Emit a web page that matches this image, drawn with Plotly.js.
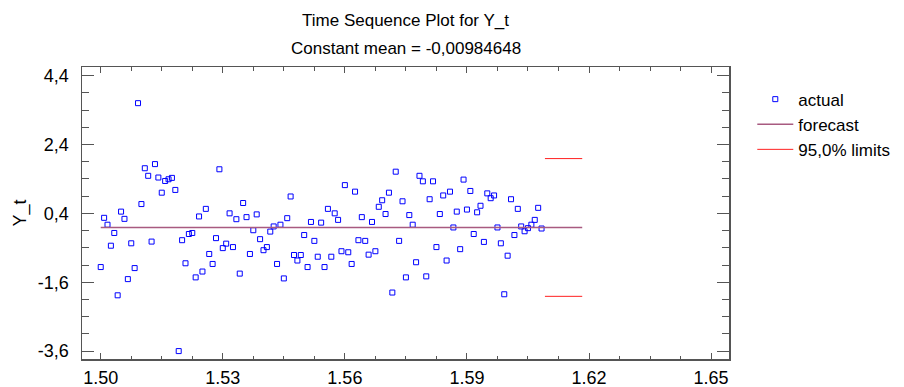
<!DOCTYPE html>
<html>
<head>
<meta charset="utf-8">
<script src="https://cdn.plot.ly/plotly-3.0.1.min.js"></script>
<style>html,body{margin:0;padding:0;background:#fff;}#chart{width:904px;height:387px;}</style>
</head>
<body>
<div id="chart"></div>
<script>
// Time index: starts at 1.50, one step = 1/1200
const timeStart = 1.50;
const timeStep = 1 / 1200;

// actual values Y_t
const actualY = [
  -1.16, 0.27, 0.07, -0.54, -0.17, -1.98, 0.45, 0.24, -1.51, -0.47,
  -1.19, 3.60, 0.67, 1.71, 1.49, -0.42, 1.83, 1.44, 1.00, 1.34,
  1.39, 1.43, 1.08, -3.60, -0.38, -1.05, -0.20, -0.17, -1.46, 0.31,
  -1.29, 0.53, -0.78, -1.07, -0.32, 1.68, -0.61, -0.48, 0.40, -0.58,
  0.23, -1.35, 0.70, 0.29, -0.78, -0.09, 0.37, -0.35, -0.67, -0.58,
  -0.13, 0.02, -1.07, 0.07, -1.49, 0.26, 0.89, -0.81, -0.97, -0.81,
  -0.23, -1.16, 0.15, -0.40, -0.86, 0.13, -1.16, 0.53, -0.86, 0.40,
  0.21, -0.70, 1.22, -0.73, -1.07, 1.03, -0.38, 0.29, -0.40, -0.80,
  0.15, -0.70, 0.59, 0.78, 0.38, 1.00, -1.90, 1.61, -0.40, 0.75,
  -1.46, 0.35, 0.07, -1.02, 1.49, 1.33, -1.43, 0.81, 1.33, -0.58,
  0.38, 0.92, -0.97, 1.03, -0.01, 0.45, -0.64, 1.38, 0.51, 1.05,
  -0.20, 0.43, 0.62, -0.43, 0.98, 0.84, 0.92, -0.01, -0.47, -1.95,
  -0.83, 0.81, -0.23, 0.53, 0.02, -0.12, -0.03, 0.07, 0.21, 0.56,
  -0.04
];

// forecast (constant mean) line
const forecastMean = -0.00984648;
const forecastX = [1.50, 1.61833];
const forecastY = [forecastMean, forecastMean];

// 95% limits for forecast period
const limitsX = [1.60917, 1.61833];
const upperLimit = [1.99, 1.99];
const lowerLimit = [-2.01, -2.01];

// y tick labels (comma decimals)
const yTickVals = [-3.6, -1.6, 0.4, 2.4, 4.4];
const yTickText = ["-3,6", "-1,6", "0,4", "2,4", "4,4"];

const titleLine1 = 'Time Sequence Plot for Y_t';
const titleLine2 = 'Constant mean = -0,00984648';

const fontFam = '"Liberation Sans", Arial, sans-serif';
const axisColor = '#555555';

const traces = [
  {
    type: 'scatter', mode: 'markers', name: 'actual',
    x0: timeStart, dx: timeStep, y: actualY,
    marker: {symbol: 'square-open', size: 5, color: '#0000ff', line: {width: 1, color: '#0000ff'}}
  },
  {
    type: 'scatter', mode: 'lines', name: 'forecast',
    x: forecastX, y: forecastY,
    line: {color: '#a85a80', width: 1.6}
  },
  {
    type: 'scatter', mode: 'lines', name: '95,0% limits',
    x: limitsX.concat([null]).concat(limitsX),
    y: upperLimit.concat([null]).concat(lowerLimit),
    connectgaps: false,
    line: {color: '#ff2020', width: 1}
  }
];

const layout = {
  width: 904, height: 387,
  margin: {l: 82, r: 175, t: 67, b: 28, pad: 0, autoexpand: false},
  paper_bgcolor: '#ffffff', plot_bgcolor: '#ffffff',
  font: {family: fontFam, size: 17, color: '#000'},
  title: {
    text: titleLine1,
    font: {family: fontFam, size: 17, color: '#000'},
    xref: 'paper', x: 0.5, xanchor: 'center',
    yref: 'container', y: 1 - 20 / 387, yanchor: 'middle'
  },
  annotations: [{
    text: titleLine2, showarrow: false,
    xref: 'paper', x: 0.5, xanchor: 'center',
    yref: 'paper', y: (359 - 48) / 292, yanchor: 'middle',
    font: {family: fontFam, size: 17, color: '#000'}
  }],
  showlegend: true,
  legend: {
    x: 1.036, xanchor: 'left', y: 0.95, yanchor: 'top',
    font: {family: fontFam, size: 17, color: '#000'},
    bgcolor: 'rgba(0,0,0,0)', itemwidth: 36, tracegroupgap: 0
  },
  xaxis: {
    range: [1.4954, 1.6544],
    tick0: 1.50, dtick: 0.03, tickformat: '.2f',
    ticks: 'inside', ticklen: 6, tickwidth: 1, tickcolor: axisColor,
    minor: {dtick: 0.0075, tick0: 1.50, ticks: 'inside', ticklen: 3.5, tickcolor: axisColor, tickwidth: 1},
    showline: true, linecolor: axisColor, linewidth: 1.5, mirror: 'allticks',
    showgrid: false, zeroline: false,
    tickfont: {family: fontFam, size: 18, color: '#000'},
    ticklabelstandoff: 2
  },
  yaxis: {
    range: [-3.83, 4.65],
    tickmode: 'array', tickvals: yTickVals, ticktext: yTickText,
    ticks: 'inside', ticklen: 12, tickwidth: 1, tickcolor: axisColor,
    minor: {dtick: 0.5, tick0: 0.4, ticks: 'inside', ticklen: 7, tickcolor: axisColor, tickwidth: 1},
    showline: true, linecolor: axisColor, linewidth: 1.5, mirror: 'allticks',
    showgrid: false, zeroline: false,
    tickfont: {family: fontFam, size: 18, color: '#000'},
    ticklabelstandoff: 8,
    title: {text: 'Y_t', font: {family: fontFam, size: 18, color: '#000'}, standoff: 6}
  }
};

Plotly.newPlot('chart', traces, layout, {displayModeBar: false, staticPlot: true});
</script>
</body>
</html>
